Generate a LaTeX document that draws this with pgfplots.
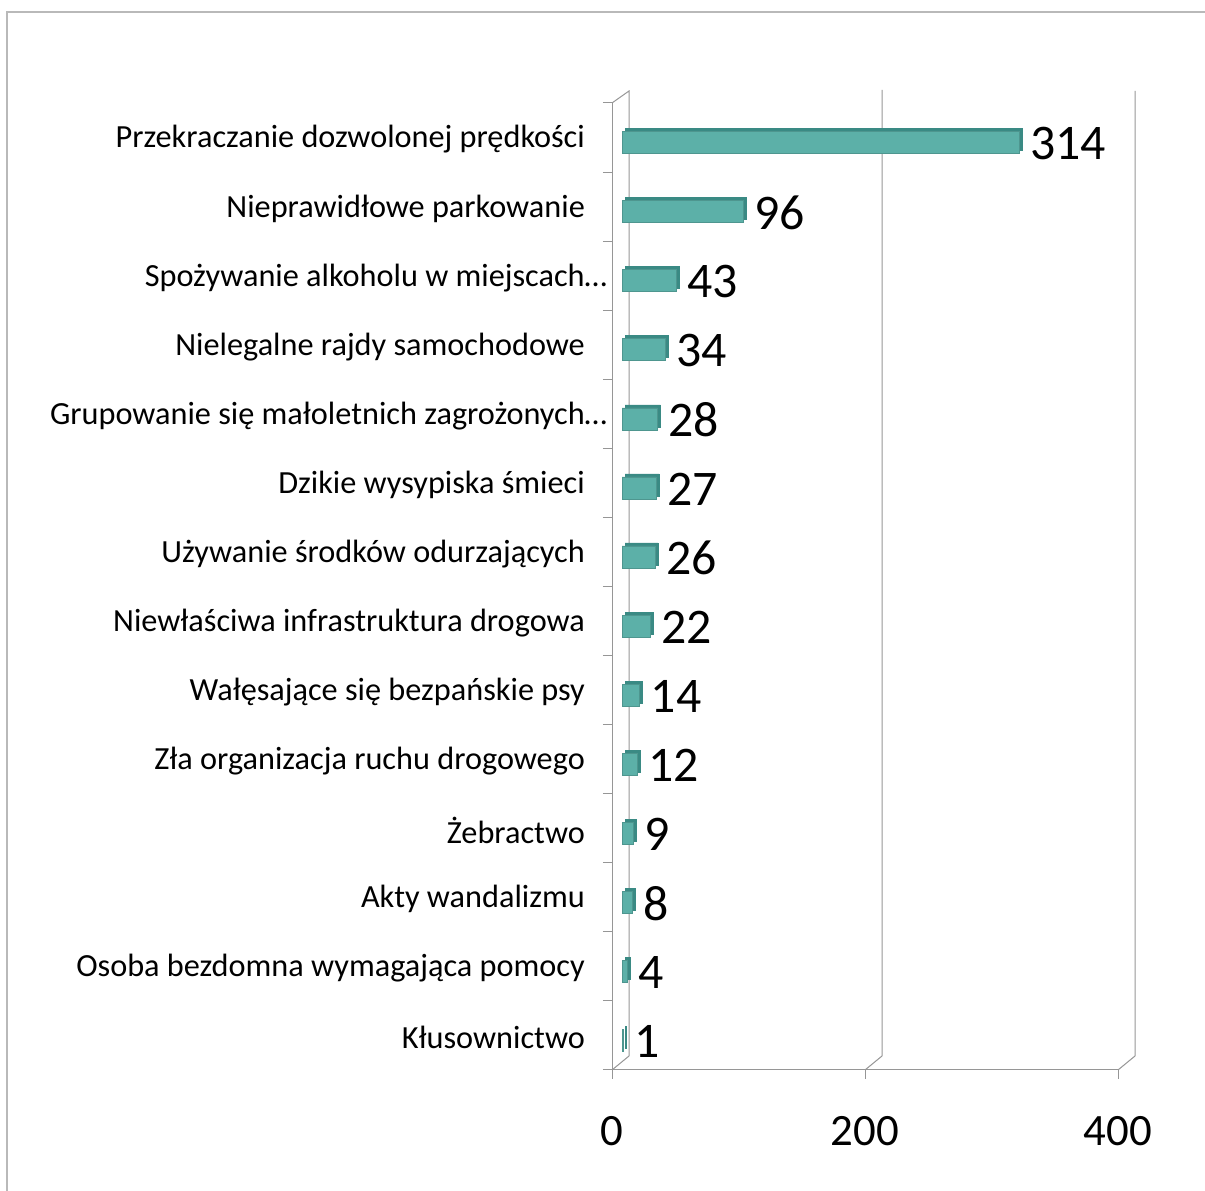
\documentclass[border=0pt]{standalone}
\usepackage{fontspec}
\setmainfont{Carlito}
\usepackage{pgfplots}
\pgfplotsset{compat=1.18}
\definecolor{barc}{RGB}{92,176,168}
\definecolor{bardark}{RGB}{58,138,132}
\definecolor{wall}{RGB}{150,150,150}
\begin{document}
\begin{tikzpicture}
\useasboundingbox (0,0) rectangle (1205bp,1191bp);
\draw[color={rgb,255:red,185;green,185;blue,185}, line width=1.5bp] (7bp,0) -- (7bp,1179bp) -- (1205bp,1179bp);
\begin{axis}[
 at={(612bp,121bp)}, anchor=south west,
 scale only axis, width=506bp, height=967bp,
 xmin=0, xmax=400, ymin=-0.5, ymax=13.5,
 clip=false,
 xtick={0,200,400},
 minor xtick={0,200,400},
 ytick={0,...,13},
 minor ytick={-0.5,0.5,...,13.5},
 yticklabels={Kłusownictwo\hspace{10bp},
  Osoba bezdomna wymagająca pomocy,
  Akty wandalizmu,
  Żebractwo,
  Zła organizacja ruchu drogowego,
  Wałęsające się bezpańskie psy,
  Niewłaściwa infrastruktura drogowa,
  Używanie środków odurzających,
  Dzikie wysypiska śmieci,
  Grupowanie się małoletnich zagrożonych\rlap{…},
  Nielegalne rajdy samochodowe,
  Spożywanie alkoholu w miejscach\rlap{…},
  Nieprawidłowe parkowanie,
  Przekraczanie dozwolonej prędkości},
 axis x line*=bottom, axis y line*=left,
 axis line style={wall, line width=1bp},
 every tick/.style={wall, line width=1bp},
 major tick length=0bp, minor tick length=9bp,
 tick align=outside,
 /pgf/number format/assume math mode=true,
 yticklabel style={font=\fontsize{32.4}{38}\selectfont, anchor=east, inner sep=0pt, xshift=-27bp, yshift=-2bp},
 xticklabel style={font=\fontsize{45}{45}\selectfont, anchor=base, yshift=-76bp},
 ]
\draw[wall, line width=1bp] (axis cs:0,13.5) -- ++(17bp,12bp) -- ([xshift=17bp,yshift=14bp]axis cs:0,-0.5) -- (axis cs:0,-0.5);
\draw[wall, line width=1bp] ([xshift=17bp,yshift=13bp]axis cs:200,13.5) -- ([xshift=17bp,yshift=14bp]axis cs:200,-0.5) -- (axis cs:200,-0.5);
\draw[wall, line width=1bp] ([xshift=17bp,yshift=12bp]axis cs:400,13.5) -- ([xshift=17bp,yshift=14bp]axis cs:400,-0.5) -- (axis cs:400,-0.5);
% depth face of the bars
\addplot[xbar, bar width=22bp, fill=bardark, draw=bardark, line width=0.5bp, xshift=13bp, yshift=-2bp, forget plot]
 coordinates {(1,0) (4,1) (8,2) (9,3) (12,4) (14,5) (22,6) (26,7) (27,8) (28,9) (34,10) (43,11) (96,12) (314,13)};
% front face of the bars
\addplot[xbar, bar width=22bp, fill=barc, draw=barc!85!black, line width=0.5bp, xshift=10bp, yshift=-5bp,
  point meta=x, nodes near coords,
  nodes near coords style={font=\fontsize{50}{50}\selectfont, anchor=west, inner sep=2bp, xshift=9bp, yshift=-1bp, text=black}]
 coordinates {(1,0) (4,1) (8,2) (9,3) (12,4) (14,5) (22,6) (26,7) (27,8) (28,9) (34,10) (43,11) (96,12) (314,13)};
\end{axis}
\end{tikzpicture}
\end{document}
